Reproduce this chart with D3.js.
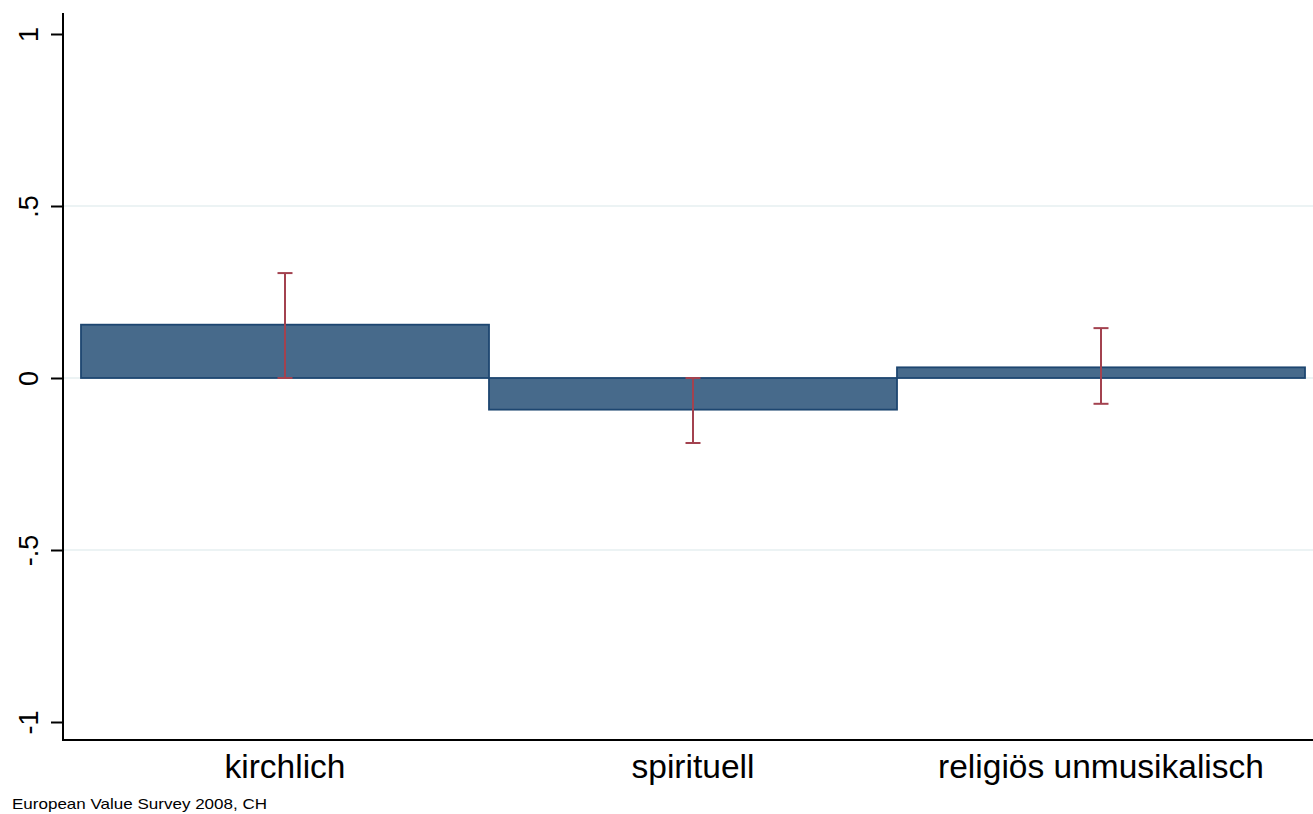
<!DOCTYPE html>
<html>
<head>
<meta charset="utf-8">
<script src="https://cdn.jsdelivr.net/npm/d3@7"></script>
<style>
  body { margin: 0; background: #fff; }
  svg { display: block; }
  text { font-family: "Liberation Sans", Arial, Helvetica, sans-serif; fill: #000; }
</style>
</head>
<body>
<svg id="chart"></svg>
<script>
// data
const categories = ['kirchlich', 'spirituell', 'religiös unmusikalisch'];
const means = [0.155, -0.092, 0.031];
const ciLow = [0.0, -0.189, -0.075];
const ciHigh = [0.305, 0.0, 0.145];
const yTicks = [-1, -0.5, 0, 0.5, 1];
const yTickLabels = ['-1', '-.5', '0', '.5', '1'];
const note = 'European Value Survey 2008, CH';

const width = 1313, height = 814;
const svg = d3.select('#chart').attr('width', width).attr('height', height);

// plot region
const axisX = 63, axisTop = 13, axisBottom = 740;

const yScale = d3.scaleLinear().domain([-1, 1]).range([722, 34]);
const xScale = d3.scaleBand().domain(categories).range([81, 1305]).padding(0);

// gridlines at interior ticks
svg.append('g')
  .selectAll('line')
  .data(yTicks.filter(t => t !== 1 && t !== -1))
  .join('line')
    .attr('x1', axisX).attr('x2', width)
    .attr('y1', d => yScale(d)).attr('y2', d => yScale(d))
    .attr('stroke', '#e6eff1').attr('stroke-width', 1.5);

// bars
svg.append('g')
  .selectAll('rect')
  .data(categories)
  .join('rect')
    .attr('x', d => xScale(d))
    .attr('width', xScale.bandwidth())
    .attr('y', (d, i) => yScale(Math.max(0, means[i])))
    .attr('height', (d, i) => Math.abs(yScale(means[i]) - yScale(0)))
    .attr('fill', '#476a8b')
    .attr('stroke', '#1d4670')
    .attr('stroke-width', 1.8);

// error bars
const err = svg.append('g').attr('stroke', '#a3424f').attr('stroke-width', 2).attr('fill', 'none');
categories.forEach((c, i) => {
  const cx = xScale(c) + xScale.bandwidth() / 2;
  err.append('line')
    .attr('x1', cx).attr('x2', cx)
    .attr('y1', yScale(ciLow[i])).attr('y2', yScale(ciHigh[i]));
  [ciLow[i], ciHigh[i]].forEach(v => {
    err.append('line')
      .attr('x1', cx - 7.5).attr('x2', cx + 7.5)
      .attr('y1', yScale(v)).attr('y2', yScale(v));
  });
});

// y axis
const yAxis = d3.axisLeft(yScale)
  .tickValues(yTicks)
  .tickSize(12)
  .tickSizeOuter(0)
  .tickFormat((d, i) => yTickLabels[i]);

const yAxisG = svg.append('g')
  .attr('transform', `translate(${axisX},0)`)
  .call(yAxis);
yAxisG.select('.domain').remove();
yAxisG.selectAll('.tick line').attr('stroke', '#000').attr('stroke-width', 2);
yAxisG.selectAll('.tick text')
  .attr('x', 0).attr('y', 0)
  .attr('dy', 0)
  .attr('transform', 'translate(-25,0) rotate(-90)')
  .style('text-anchor', 'middle')
  .style('font-size', '27px')
  .style('font-family', '"Liberation Sans", Arial, sans-serif');

svg.append('line')
  .attr('x1', axisX).attr('x2', axisX)
  .attr('y1', axisTop).attr('y2', axisBottom + 1)
  .attr('stroke', '#000').attr('stroke-width', 2);

// x axis
svg.append('line')
  .attr('x1', axisX - 1).attr('x2', width)
  .attr('y1', axisBottom).attr('y2', axisBottom)
  .attr('stroke', '#000').attr('stroke-width', 2);

svg.append('g')
  .selectAll('text')
  .data(categories)
  .join('text')
    .attr('x', d => xScale(d) + xScale.bandwidth() / 2)
    .attr('y', 778)
    .attr('text-anchor', 'middle')
    .style('font-size', '33.5px')
    .text(d => d);

// source note
svg.append('text')
  .attr('x', 12).attr('y', 809)
  .attr('textLength', 255)
  .attr('lengthAdjust', 'spacingAndGlyphs')
  .style('font-size', '15px')
  .text(note);
</script>
</body>
</html>
